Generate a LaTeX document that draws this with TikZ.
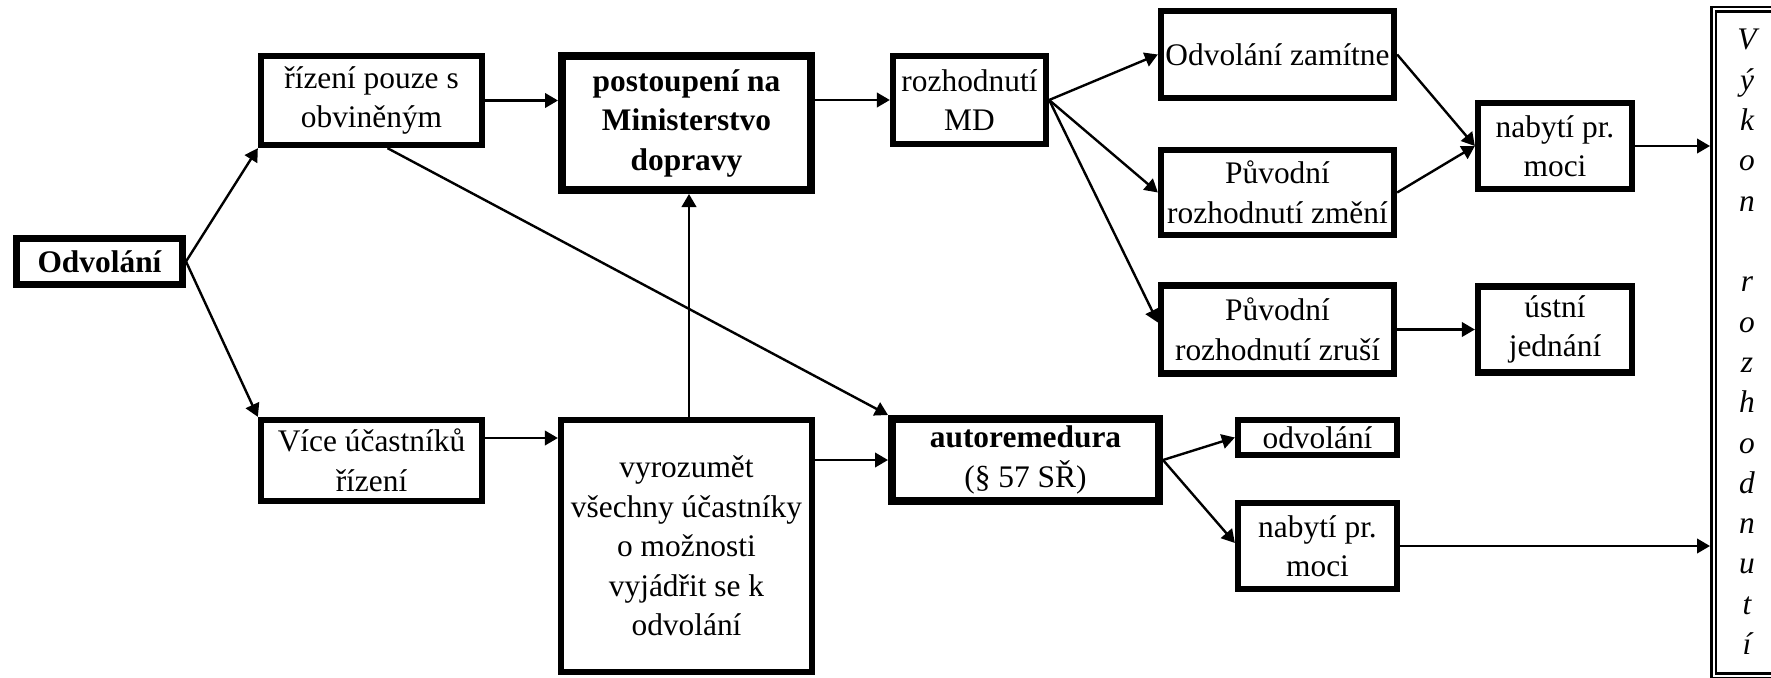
\documentclass[tikz,border=0pt]{standalone}
\usepackage{fontspec}
\setmainfont{Liberation Serif}
\usetikzlibrary{arrows.meta,calc}
\begin{document}
\begin{tikzpicture}[x=1pt,y=-1pt,
  box/.style={draw, line width=6.3pt, inner sep=0pt, align=center, font=\fontsize{31.4}{39.5}\selectfont},
  bbox/.style={box, line width=8pt, font=\fontsize{31.4}{39.5}\selectfont\bfseries},
  arr/.style={line width=2.4pt, -{Triangle[length=13pt,width=14.5pt]}},
  letter/.style={anchor=base, inner sep=0pt, font=\fontsize{31.4}{39.5}\selectfont\itshape}
]
\useasboundingbox (0,0) rectangle (1771,677);
\clip (0,0) rectangle (1771,677);
\fill[white] (0,0) rectangle (1771,677);

% boxes
\node[bbox, line width=7pt, minimum width=166pt, minimum height=46pt] (odv) at (99.5,261.5) {Odvolání};
\node[box, minimum width=221pt, minimum height=89pt] (riz) at (371.5,100.5) {řízení pouze s\\obviněným};
\node[bbox, minimum width=249pt, minimum height=134pt] (post) at (686.5,123) {postoupení na\\Ministerstvo\\dopravy};
\node[box, minimum width=153pt, minimum height=88pt] (rozh) at (969.5,100) {rozhodnutí\\MD};
\node[box, minimum width=233pt, minimum height=87pt] (zam) at (1277.5,54.5) {Odvolání zamítne};
\node[box, minimum width=233pt, minimum height=85pt] (zmeni) at (1277.5,192.5) {Původní\\rozhodnutí změní};
\node[box, minimum width=233pt, minimum height=88pt] (zrusi) at (1277.5,329.5) {Původní\\rozhodnutí zruší};
\node[box, minimum width=154pt, minimum height=86pt] (nab1) at (1555,146) {nabytí pr.\\moci};
\node[box, minimum width=154pt, minimum height=86pt] (ustni) at (1555,329.5) {ústní\\jednání};
\node[box, minimum width=221pt, minimum height=81pt] (vice) at (371.5,460.5) {Více účastníků\\řízení};
\node[box, minimum width=251pt, minimum height=252pt] (vyroz) at (686.5,546) {vyrozumět\\všechny účastníky\\o možnosti\\vyjádřit se k\\odvolání};
\node[bbox, minimum width=267pt, minimum height=82pt] (auto) at (1025.5,460) {autoremedura\\\mdseries(§ 57 SŘ)};
\node[box, minimum width=159pt, minimum height=35pt] (odv2) at (1317.5,437.5) {odvolání};
\node[box, minimum width=159pt, minimum height=86pt] (nab2) at (1317.5,546) {nabytí pr.\\moci};

% Vykon rozhodnuti (double frame)
\node[draw, double, line width=2.5pt, double distance=2pt, outer sep=3.5pt, inner sep=0pt,
      minimum width=86.5pt, minimum height=666pt] (vyk) at (1756.75,342.5) {};
\foreach \c [count=\i from 0] in {V,ý,k,o,n,{},r,o,z,h,o,d,n,u,t,í}
  \node[letter] (l\i) at (1747,{50+40.3*\i}) {\c};

% helper coordinates
\coordinate (yv) at (0,438);

% connectors
\draw[arr] (odv.east) -- (riz.south west);
\draw[arr] (odv.east) -- (vice.north west);
\draw[arr] (riz.east) -- (riz.east -| post.west);
\draw[arr] (post.east |- rozh.west) -- (rozh.west);
\draw[arr] (rozh.east) -- (zam.west);
\draw[arr] (rozh.east) -- (zmeni.west);
\draw[arr] (rozh.east) -- ($(zrusi.west)+(0,-7)$);
\draw[arr] (zam.east) -- (nab1.west);
\draw[arr] (zmeni.east) -- (nab1.west);
\draw[arr] (zrusi.east) -- (ustni.west);
\draw[arr] (nab1.east) -- (nab1.east -| vyk.west);
\draw[arr] (vice.east |- yv) -- (vyroz.west |- yv);
\draw[arr] (vyroz.east |- auto.west) -- (auto.west);
\draw[arr] ($(vyroz.north)+(2.5,0)$) -- ($(post.south)+(2.5,0)$);
\draw[arr] ($(riz.south)+(16,0)$) -- (auto.north west);
\draw[arr] (auto.east) -- (odv2.west);
\draw[arr] (auto.east) -- ($(nab2.west)+(0,-3)$);
\draw[arr] (nab2.east) -- (nab2.east -| vyk.west);
\end{tikzpicture}
\end{document}
